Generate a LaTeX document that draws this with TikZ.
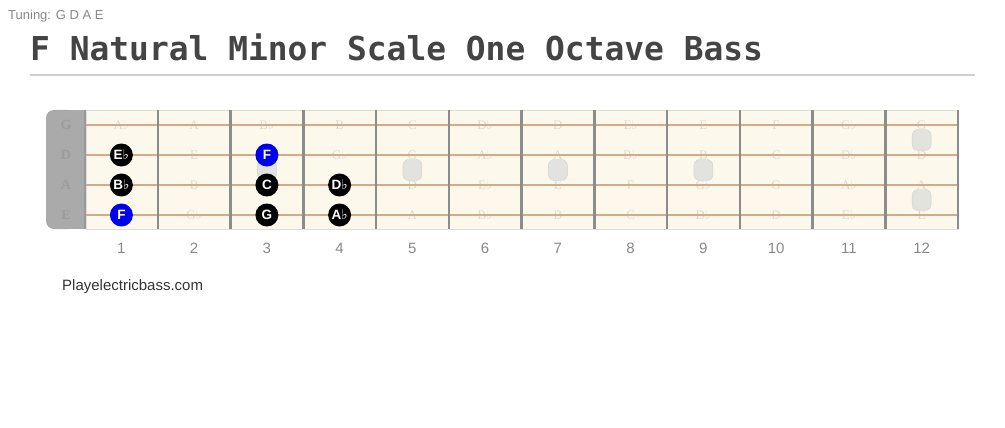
\documentclass[tikz,border=0pt]{standalone}
\usepackage{fontspec}
\setmainfont{Liberation Sans}
\newfontfamily\titlefont{DejaVu Sans Mono}
\newfontfamily\notefont{Liberation Serif}
\newfontfamily\symfont{DejaVu Sans}
\newcommand{\fl}{{\symfont ♭}}
\definecolor{board}{HTML}{FDF8EC}
\definecolor{boardedge}{HTML}{DDDDDD}
\definecolor{nutgray}{HTML}{AAAAAA}
\definecolor{nutedge}{HTML}{999999}
\definecolor{nutlabel}{HTML}{9C9C9C}
\definecolor{stringcol}{HTML}{D4AA8A}
\definecolor{fretcol}{HTML}{8C8C8C}
\definecolor{ghost}{HTML}{E2D8C8}
\definecolor{inlaygray}{HTML}{E2E2DF}
\definecolor{inlayedge}{HTML}{D2D2D0}
\definecolor{rootblue}{HTML}{0000F0}
\definecolor{titlecol}{HTML}{444444}
\definecolor{rulecol}{HTML}{CFCFCF}
\definecolor{numgray}{HTML}{888888}
\definecolor{sitecol}{HTML}{333333}
\usetikzlibrary{calc}

\begin{document}
\begin{tikzpicture}[x=1pt,y=-1pt,
    ghostnote/.style = { text=ghost,inner sep=0pt,font=\notefont\fontsize{13}{13}\selectfont },
    nutnote/.style = { text=nutlabel,inner sep=0pt,font=\notefont\bfseries\fontsize{14}{14}\selectfont },
    scalenote/.style = { circle,fill=black,inner sep=0pt,minimum size=23pt,text=white,font=\bfseries\fontsize{13.5}{13.5}\selectfont },
    rootnote/.style = { scalenote,fill=rootblue },
    inlay/.style = { rounded corners=6pt,fill=inlaygray,draw=inlayedge,minimum width=19pt,minimum height=21pt,inner sep=0pt },
    fretline/.style = { fretcol,line width=2.5pt },
    stringline/.style = { stringcol,line width=2pt },
    fretnum/.style = { text=numgray,font=\fontsize{15}{15}\selectfont }
    ]
    \useasboundingbox (0,0) rectangle (1005,428);
    % Definitions
    \coordinate (rulel) at (30,75);
    \coordinate (ruler) at (975,75);
    \coordinate (nutl)  at (46,110);
    \coordinate (boardtl) at (86,110);
    \coordinate (boardbr) at (958,229);
    % Header
    \node[anchor=base west,inner sep=0pt,text=numgray,font=\fontsize{13}{13}\selectfont] (tuning) at (8,20) {Tuning: G D A E};
    \node[anchor=base west,inner sep=0pt,text=titlecol,font=\titlefont\bfseries\fontsize{32.9}{32.9}\selectfont] (title) at (30,61) {F Natural Minor Scale One Octave Bass};
    \draw[rulecol,line width=1.6pt] (rulel) -- (ruler);
    % Board
    \fill[nutgray,rounded corners=8pt] (nutl) rectangle (76,229);
    \fill[nutgray] (66,110) rectangle (boardtl |- boardbr);
    \fill[board] (boardtl) rectangle (boardbr);
    \draw[boardedge,line width=0.8pt] (boardtl) rectangle (boardbr);
    \draw[nutedge,line width=1.5pt] (85,110) -- (85,229);
    \node[nutnote] (nutG) at (66,125) {G};
    \node[nutnote] (nutD) at (66,155) {D};
    \node[nutnote] (nutA) at (66,185) {A};
    \node[nutnote] (nutE) at (66,215) {E};
    % Note names
    \foreach \f/\t in {1/A\fl,2/A,3/B\fl,4/B,5/C,6/D\fl,7/D,8/E\fl,9/E,10/F,11/G\fl,12/G}
        \node[ghostnote] (G\f) at ({48.6+72.75*\f},125) {\t};
    \foreach \f/\t in {2/E,4/G\fl,5/G,6/A\fl,7/A,8/B\fl,9/B,10/C,11/D\fl,12/D}
        \node[ghostnote] (D\f) at ({48.6+72.75*\f},155) {\t};
    \foreach \f/\t in {2/B,5/D,6/E\fl,7/E,8/F,9/G\fl,10/G,11/A\fl,12/A}
        \node[ghostnote] (A\f) at ({48.6+72.75*\f},185) {\t};
    \foreach \f/\t in {2/G\fl,5/A,6/B\fl,7/B,8/C,9/D\fl,10/D,11/E\fl,12/E}
        \node[ghostnote] (E\f) at ({48.6+72.75*\f},215) {\t};
    % Strings and frets
    \foreach \y in {125,155,185,215}
        \draw[stringline] (86,\y) -- (958,\y);
    \foreach \k in {1,...,12}
        \draw[fretline] ({85+72.75*\k},110) -- ({85+72.75*\k},229);
    \foreach \k in {1,...,12}
        \node[fretnum] (num\k) at ({48.6+72.75*\k},248) {\k};
    % Inlays
    \node[inlay] (dot3)  at (266.9,170) {};
    \node[inlay] (dot5)  at (412.4,170) {};
    \node[inlay] (dot7)  at (557.9,170) {};
    \node[inlay] (dot9)  at (703.4,170) {};
    \node[inlay] (dot12a) at (921.6,140) {};
    \node[inlay] (dot12b) at (921.6,200) {};
    % Scale notes
    \node[scalenote] (sD1) at (121.4,155) {E\fl};
    \node[scalenote] (sA1) at (121.4,185) {B\fl};
    \node[rootnote]  (sE1) at (121.4,215) {F};
    \node[rootnote]  (sD3) at (266.9,155) {F};
    \node[scalenote] (sA3) at (266.9,185) {C};
    \node[scalenote] (sE3) at (266.9,215) {G};
    \node[scalenote] (sA4) at (339.6,185) {D\fl};
    \node[scalenote] (sE4) at (339.6,215) {A\fl};
    % Footer
    \node[anchor=base west,inner sep=0pt,text=sitecol,font=\fontsize{15}{15}\selectfont] (site) at (62,290) {Playelectricbass.com};
\end{tikzpicture}
\end{document}
